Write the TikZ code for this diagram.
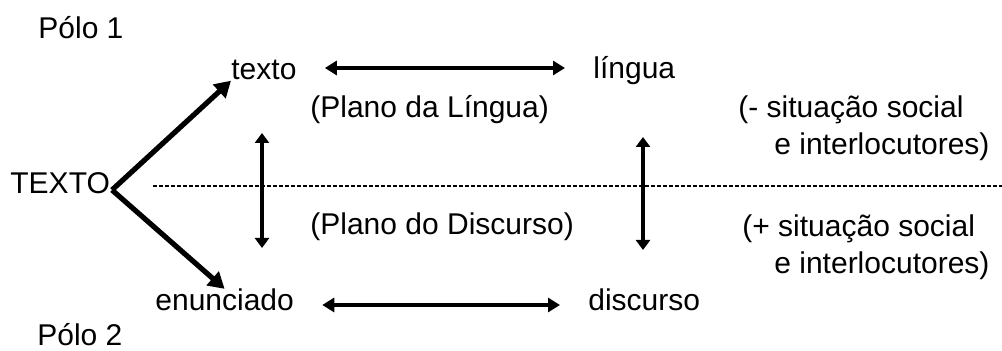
\documentclass[tikz,border=0pt]{standalone}
\usepackage{fontspec}
\setmainfont{Liberation Sans}
\usetikzlibrary{arrows.meta,positioning}

\begin{document}
\begin{tikzpicture}[x=0.5pt,y=-0.5pt,
  every node/.style={inner sep=0pt,font=\fontsize{15}{18.5}\selectfont},
  seta/.style={line width=2.6pt,-{Triangle[length=8pt,width=9pt]}},
  duplav/.style={line width=2.3pt,{Triangle[length=5pt,width=7pt]}-{Triangle[length=5pt,width=7pt]}},
  duplah/.style={line width=2.3pt,{Triangle[length=6pt,width=7pt]}-{Triangle[length=6pt,width=7pt]},
    shorten <=14pt,shorten >=14pt},
  traco/.style={line width=0.6pt,dash pattern=on 2pt off 1pt}]
  \useasboundingbox (0,0) rectangle (1002,351);
  \node[anchor=base west] (polo1) at (38,39) {Pólo 1};
  \node[anchor=base west] (polo2) at (37,346) {Pólo 2};
  \node[anchor=base west] (TEXTO) at (10,194) {TEXTO};
  \node[anchor=base west] (texto) at (231,80) {texto};
  \node[anchor=base west] (lingua) at (593,79) {língua};
  \node[anchor=base west] (enunciado) at (155,311) {enunciado};
  \node[anchor=base west] (discurso) at (588,311) {discurso};
  \node[anchor=base west] (planoL) at (310,118) {(Plano da Língua)};
  \node[anchor=base west] (planoD) at (310,235) {(Plano do Discurso)};
  \node[anchor=west,align=left] (menos) at (738,128) {(- situação social\\\hspace*{18pt}e interlocutores)};
  \node[anchor=west,align=left] (mais) at (742,247) {(+ situação social\\\hspace*{16pt}e interlocutores)};
  \coordinate (apex) at (112,190);
  \coordinate (dl) at (153,186);  \coordinate (dr) at (1002,186);
  \coordinate (ysup) at (0,68);   \coordinate (yinf) at (0,305);
  \coordinate (v1a) at (262,133); \coordinate (v1b) at (262,248);
  \coordinate (v2a) at (643,137); \coordinate (v2b) at (643,250);
  \draw[traco] (dl) -- (dr);
  \draw[seta] (apex) -- (texto.south west);
  \draw[seta] (apex) -- (enunciado.north);
  \draw[duplah] (texto.east |- ysup) -- (lingua.west |- ysup);
  \draw[duplah] (enunciado.east |- yinf) -- (discurso.west |- yinf);
  \draw[duplav] (v1a) -- (v1b);
  \draw[duplav] (v2a) -- (v2b);
\end{tikzpicture}
\end{document}
